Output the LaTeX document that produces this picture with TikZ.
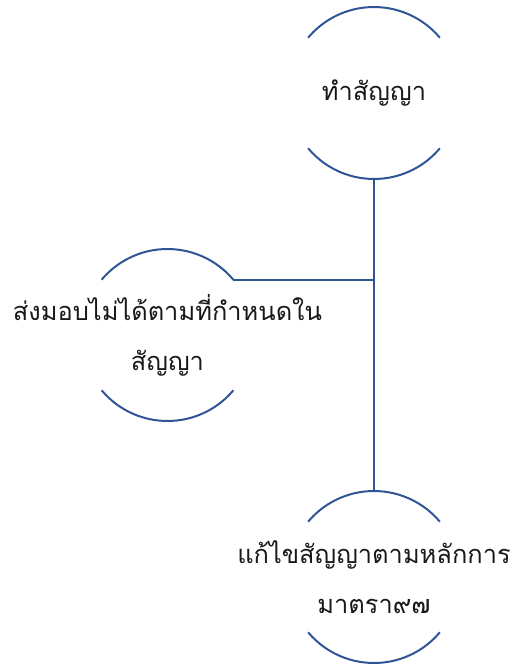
\documentclass[tikz,border=0pt]{standalone}
\usepackage{fontspec}
\newfontfamily\thaifont[Script=Thai]{Loma}
\usetikzlibrary{positioning}
\definecolor{ringblue}{RGB}{47,85,151}

\tikzset{
  ring/.style={circle, minimum size=172pt, inner sep=0pt, outer sep=0pt},
  rim/.style={draw=ringblue, line width=2pt},
  txt/.style={font=\thaifont\fontsize{25.4}{50}\selectfont, align=center, text=black!90}
}

\begin{document}
\begin{tikzpicture}[x=1pt, y=1pt]
\useasboundingbox (0, 0) rectangle (515, -665);

\node[ring] (sign) at (374, -93) {};
\node[ring] (late) at (167.5, -335) {};
\node[ring] (fix) at (374, -577) {};

\foreach \r in {sign, late, fix} {
  \draw[rim] (\r.40) arc (40:140:86pt);
  \draw[rim] (\r.220) arc (220:320:86pt);
}

\coordinate (join) at (sign.south |- late.40);
\draw[rim] (sign.south) -- (fix.north);
\draw[rim] (late.40) -- (join);

\node[txt] at (sign) {ทำสัญญา};
\node[txt] at (late) {ส่งมอบไม่ได้ตามที่กำหนดใน\\สัญญา};
\node[txt] at (fix) {แก้ไขสัญญาตามหลักการ\\มาตรา๙๗};
\end{tikzpicture}
\end{document}
